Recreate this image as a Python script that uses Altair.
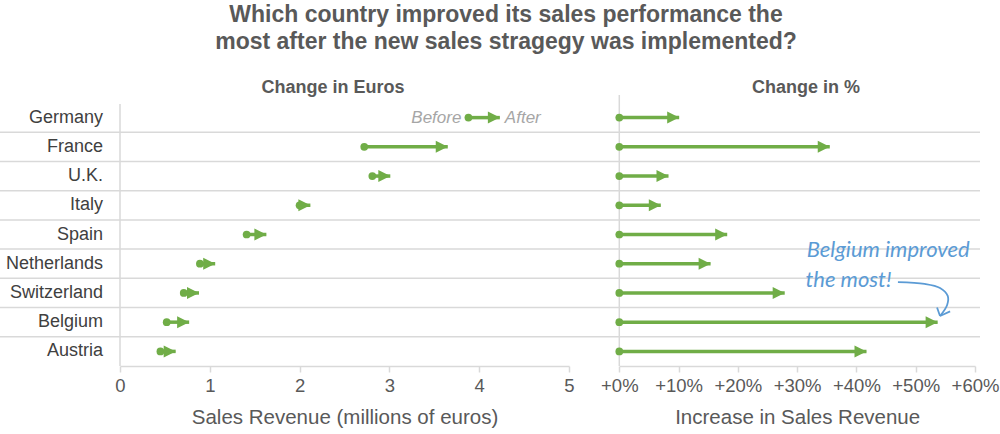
import altair as alt
import pandas as pd

# ---------------- data ----------------
countries = ["Germany", "France", "U.K.", "Italy", "Spain", "Netherlands",
             "Switzerland", "Belgium", "Austria"]
before_mln = [3.88, 2.72, 2.81, 2.00, 1.41, 0.89, 0.71, 0.52, 0.45]
after_mln = [4.23, 3.65, 3.01, 2.12, 1.63, 1.06, 0.88, 0.77, 0.62]
pct_change = [10.1, 35.5, 8.3, 7.0, 18.2, 15.4, 27.9, 53.7, 41.7]

euro_ticks = [0, 1, 2, 3, 4, 5]
pct_ticks = [0, 10, 20, 30, 40, 50, 60]

title_lines = ["Which country improved its sales performance the",
               "most after the new sales stragegy was implemented?"]
panel_titles = ["Change in Euros", "Change in %"]

annot_lines = ["Belgium improved", "the most!"]
annot_x = [31.6, 31.4]
annot_row = [4.53, 5.55]
curve_x = [47.0, 51.5, 54.1, 55.4, 55.3, 54.1]
curve_row = [5.63, 5.69, 5.83, 6.10, 6.41, 6.79]
wing_x = [53.6, 55.8]
wing_row = [6.50, 6.63]

# ---------------- styling ----------------
GREEN = "#70AD47"
GRID = "#D9D9D9"
TXT = "#595959"
BLUE = "#5B9BD5"
FONT = "Liberation Sans"

df = pd.DataFrame({
    "country": countries,
    "row": list(range(len(countries))),
    "before": before_mln,
    "after": after_mln,
    "pct": pct_change,
})
df["base"] = 0.0
one = pd.DataFrame({"z": [0.0]})

sc_left = alt.Scale(domain=[0, 5], range=[120, 569], nice=False, zero=False)
sc_right = alt.Scale(domain=[0, 60], range=[619.3, 975], nice=False, zero=False)
sc_y = alt.Scale(domain=[-0.5, 8.5], range=[103, 366], nice=False, zero=False)

Y = alt.Y("row:Q", scale=sc_y, axis=None)

axis_common = dict(orient="bottom", grid=False, domainColor=GRID, domainWidth=1.5,
                   tickColor=GRID, tickWidth=1.5, tickSize=6,
                   labelFontSize=18.5, labelColor=TXT, labelFont=FONT, labelPadding=4,
                   titleFontSize=20.5, titleColor=TXT, titleFont=FONT,
                   titleFontWeight="normal", titlePadding=13, labelFlush=False)

# gridlines between rows (span full width)
grid = alt.Chart(df[df.row < len(countries) - 1]).transform_calculate(
    yb="datum.row + 0.5"
).mark_rule(color=GRID, strokeWidth=1.5).encode(
    y=alt.Y("yb:Q", scale=sc_y, axis=None),
    x=alt.value(0), x2=alt.value(980)
)

vline_left = alt.Chart(one).mark_rule(color=GRID, strokeWidth=1.5).encode(
    x=alt.X("z:Q", scale=sc_left, axis=None),
    y=alt.value(104), y2=alt.value(366)
)
vline_right = alt.Chart(one).mark_rule(color=GRID, strokeWidth=1.5).encode(
    x=alt.X("z:Q", scale=sc_right, axis=None),
    y=alt.value(95), y2=alt.value(366)
)

# ---- left panel ----
left_line = alt.Chart(df).mark_rule(color=GREEN, strokeWidth=3.5).encode(
    x=alt.X("before:Q", scale=sc_left,
            axis=alt.Axis(values=euro_ticks, title="Sales Revenue (millions of euros)",
                          **axis_common)),
    x2="after:Q",
    y=Y,
)
left_dot = alt.Chart(df).mark_circle(color=GREEN, size=60, opacity=1).encode(
    x=alt.X("before:Q", scale=sc_left, axis=None), y=Y
)
ARROW = "M-2,-1L0,0L-2,1Z"
left_head = alt.Chart(df).mark_point(shape=ARROW, filled=True, color=GREEN,
                                     size=144, opacity=1).encode(
    x=alt.X("after:Q", scale=sc_left, axis=None), y=Y
)
lbl_before = alt.Chart(df[df.row == 0]).mark_text(
    text="Before", align="right", baseline="middle", dx=-7, fontSize=17,
    fontStyle="italic", font=FONT, color="#A6A6A6"
).encode(x=alt.X("before:Q", scale=sc_left, axis=None), y=Y)
lbl_after = alt.Chart(df[df.row == 0]).mark_text(
    text="After", align="left", baseline="middle", dx=5, fontSize=17,
    fontStyle="italic", font=FONT, color="#A6A6A6"
).encode(x=alt.X("after:Q", scale=sc_left, axis=None), y=Y)

# ---- right panel ----
right_line = alt.Chart(df).mark_rule(color=GREEN, strokeWidth=3.5).encode(
    x=alt.X("base:Q", scale=sc_right,
            axis=alt.Axis(values=pct_ticks, title="Increase in Sales Revenue",
                          labelExpr="'+' + datum.value + '%'", **axis_common)),
    x2="pct:Q",
    y=Y,
)
right_dot = alt.Chart(df).mark_circle(color=GREEN, size=60, opacity=1).encode(
    x=alt.X("base:Q", scale=sc_right, axis=None), y=Y
)
right_head = alt.Chart(df).mark_point(shape=ARROW, filled=True, color=GREEN,
                                      size=144, opacity=1).encode(
    x=alt.X("pct:Q", scale=sc_right, axis=None), y=Y
)

# ---- labels ----
country_lbl = alt.Chart(df).mark_text(
    align="right", baseline="middle", fontSize=18, font=FONT, color="#404040"
).encode(x=alt.value(103), y=Y, text="country:N")

title = alt.Chart(one).mark_text(
    text=title_lines, align="center", baseline="top", fontSize=23,
    fontWeight="bold", font=FONT, color=TXT, lineHeight=27
).encode(x=alt.value(506), y=alt.value(4))

hdr_left = alt.Chart(one).mark_text(
    text=panel_titles[0], align="center", baseline="middle", fontSize=18,
    fontWeight="bold", font=FONT, color=TXT
).encode(x=alt.value(333), y=alt.value(88))
hdr_right = alt.Chart(one).mark_text(
    text=panel_titles[1], align="center", baseline="middle", fontSize=18,
    fontWeight="bold", font=FONT, color=TXT
).encode(x=alt.value(806), y=alt.value(88))

# ---- annotation ----
adf = pd.DataFrame({"t": annot_lines, "x": annot_x, "row": annot_row})
annot_text = alt.Chart(adf).mark_text(
    align="left", baseline="middle", fontSize=22, font="Lato",
    fontStyle="italic", color=BLUE
).encode(x=alt.X("x:Q", scale=sc_right, axis=None),
         y=alt.Y("row:Q", scale=sc_y, axis=None), text="t:N")

cdf = pd.DataFrame({"x": curve_x, "row": curve_row, "i": list(range(len(curve_x)))})
annot_curve = alt.Chart(cdf).mark_line(
    color=BLUE, strokeWidth=1.8, interpolate="catmull-rom"
).encode(x=alt.X("x:Q", scale=sc_right, axis=None),
         y=alt.Y("row:Q", scale=sc_y, axis=None), order="i:Q")

wdf = pd.DataFrame({"x": wing_x, "row": wing_row,
                    "tx": [curve_x[-1]] * 2, "trow": [curve_row[-1]] * 2})
annot_wings = alt.Chart(wdf).mark_rule(color=BLUE, strokeWidth=1.8).encode(
    x=alt.X("x:Q", scale=sc_right, axis=None), x2="tx:Q",
    y=alt.Y("row:Q", scale=sc_y, axis=None), y2="trow:Q"
)

chart = alt.layer(
    grid, vline_left, vline_right,
    left_line, left_dot, left_head, lbl_before, lbl_after,
    right_line, right_dot, right_head,
    country_lbl, title, hdr_left, hdr_right,
    annot_text, annot_curve, annot_wings
).resolve_scale(x="independent").properties(
    width=1000, height=366,
    padding={"left": 0, "top": 0, "right": 0, "bottom": 68},
    autosize="none",
    background="white",
).configure_view(stroke=None)

chart.save("out.html", embed_options={"renderer": "svg", "actions": False})
